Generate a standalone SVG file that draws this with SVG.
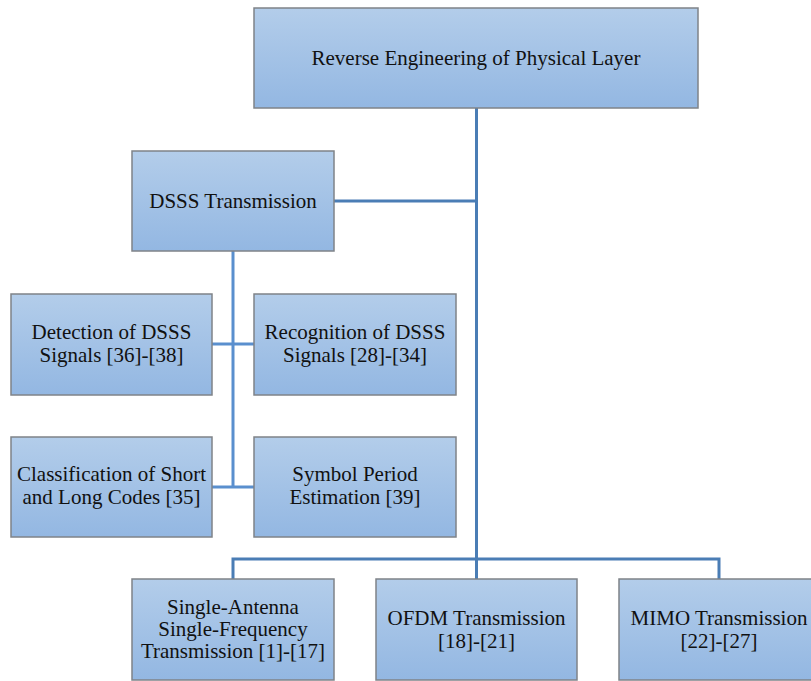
<svg xmlns="http://www.w3.org/2000/svg" width="811" height="681" viewBox="0 0 811 681">
<defs>
<linearGradient id="g" x1="0" y1="0" x2="0" y2="1">
<stop offset="0" stop-color="#b3cdea"/>
<stop offset="1" stop-color="#93b7e2"/>
</linearGradient>
<style>
.box{fill:url(#g);stroke:#7f8388;stroke-width:1.5}
.t{font-family:"Liberation Serif","Times New Roman",serif;font-size:21px;fill:#111;text-anchor:middle}
.c1{fill:none;stroke:#4a7db5;stroke-width:3}
.c2{fill:none;stroke:#5a8fce;stroke-width:3}
</style>
</defs>
<rect width="811" height="681" fill="#fff"/>
<g id="connectors">
<path class="c1" d="M476.5 108 V579 M334 201 H476.5 M233 579 V559 H719 V579"/>
<path class="c2" d="M233 251 V487 M212 344 H254 M212 487 H254"/>
</g>
<g id="root">
<rect class="box" x="254" y="8" width="444" height="100"/>
<text class="t" x="476" y="65">Reverse Engineering of Physical Layer</text>
</g>
<g id="dsss">
<rect class="box" x="132" y="151" width="202" height="100"/>
<text class="t" x="233" y="208">DSSS Transmission</text>
</g>
<g id="detection">
<rect class="box" x="11" y="294" width="201" height="101"/>
<text class="t" x="111.5" y="339">Detection of DSSS</text>
<text class="t" x="111.5" y="362">Signals [36]-[38]</text>
</g>
<g id="recognition">
<rect class="box" x="254" y="294" width="202" height="101"/>
<text class="t" x="355" y="339">Recognition of DSSS</text>
<text class="t" x="355" y="362">Signals [28]-[34]</text>
</g>
<g id="classification">
<rect class="box" x="11" y="437" width="201" height="100"/>
<text class="t" x="111.5" y="481">Classification of Short</text>
<text class="t" x="111.5" y="503.5">and Long Codes [35]</text>
</g>
<g id="symbol">
<rect class="box" x="254" y="437" width="202" height="100"/>
<text class="t" x="355" y="481">Symbol Period</text>
<text class="t" x="355" y="503.5">Estimation [39]</text>
</g>
<g id="single">
<rect class="box" x="132" y="579" width="202" height="101"/>
<text class="t" x="233" y="614">Single-Antenna</text>
<text class="t" x="233" y="636">Single-Frequency</text>
<text class="t" x="233" y="658">Transmission [1]-[17]</text>
</g>
<g id="ofdm">
<rect class="box" x="376" y="579" width="201" height="101"/>
<text class="t" x="476.5" y="625">OFDM Transmission</text>
<text class="t" x="476.5" y="648">[18]-[21]</text>
</g>
<g id="mimo">
<rect class="box" x="619" y="579" width="201" height="101"/>
<text class="t" x="719" y="625">MIMO Transmission</text>
<text class="t" x="719" y="648">[22]-[27]</text>
</g>
</svg>
